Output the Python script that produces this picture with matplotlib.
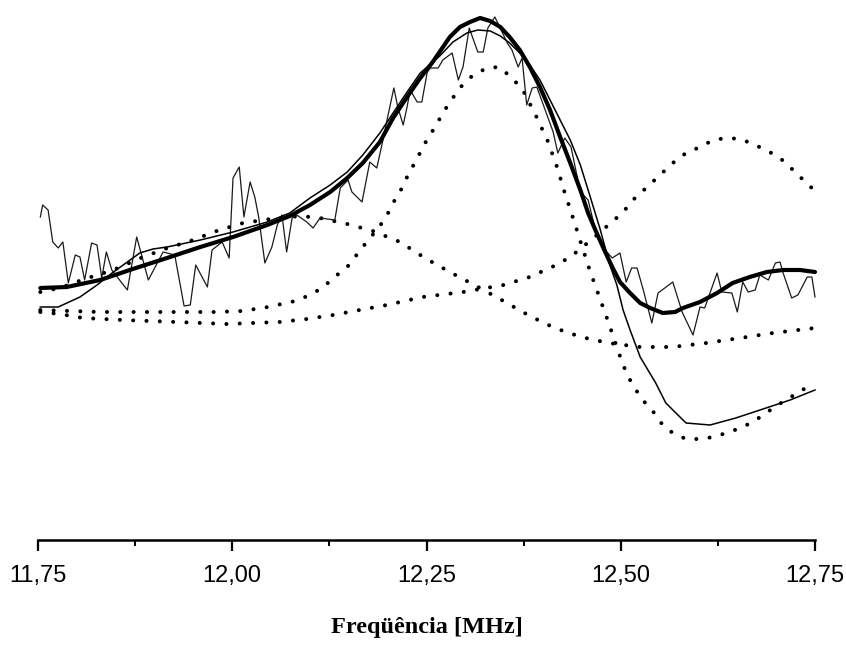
import matplotlib
matplotlib.use("Agg")
import matplotlib.pyplot as plt
from matplotlib.ticker import FixedLocator

# ---- measured spectrum (arbitrary amplitude units) ----
meas_f = [11.753, 11.756, 11.763, 11.769, 11.776, 11.782, 11.789, 11.798, 11.804, 11.810,
          11.819, 11.826, 11.832, 11.838, 11.845, 11.865, 11.877, 11.892, 11.911, 11.926,
          11.938, 11.946, 11.953, 11.968, 11.974, 11.987, 11.996, 12.001, 12.009, 12.015,
          12.023, 12.029, 12.034, 12.042, 12.051, 12.058, 12.064, 12.070, 12.077, 12.083,
          12.096, 12.104, 12.113, 12.132, 12.139, 12.149, 12.154, 12.167, 12.177, 12.186,
          12.194, 12.200, 12.208, 12.213, 12.220, 12.225, 12.229, 12.238, 12.244, 12.251,
          12.255, 12.265, 12.271, 12.283, 12.291, 12.297, 12.305, 12.316, 12.323, 12.329,
          12.338, 12.354, 12.360, 12.368, 12.373, 12.379, 12.386, 12.392, 12.413, 12.419,
          12.428, 12.436, 12.448, 12.458, 12.468, 12.480, 12.489, 12.499, 12.507, 12.514,
          12.521, 12.529, 12.540, 12.548, 12.567, 12.579, 12.593, 12.602, 12.608, 12.624,
          12.630, 12.643, 12.650, 12.657, 12.664, 12.673, 12.679, 12.690, 12.699, 12.705,
          12.709, 12.720, 12.728, 12.740, 12.746, 12.750]
meas_a = [3.23, 3.35, 3.30, 2.98, 2.92, 2.98, 2.57, 2.85, 2.83, 2.60,
          2.97, 2.95, 2.62, 2.88, 2.70, 2.50, 3.03, 2.60, 2.88, 2.85,
          2.34, 2.35, 2.75, 2.53, 2.90, 2.98, 2.82, 3.62, 3.73, 3.23,
          3.58, 3.43, 3.23, 2.77, 2.93, 3.15, 3.25, 2.88, 3.22, 3.25,
          3.18, 3.12, 3.22, 3.20, 3.52, 3.60, 3.48, 3.38, 3.78, 3.72,
          4.00, 4.23, 4.52, 4.33, 4.15, 4.33, 4.50, 4.38, 4.38, 4.68,
          4.72, 4.72, 4.80, 4.87, 4.60, 4.73, 5.12, 4.88, 4.88, 5.12,
          5.23, 4.97, 4.90, 4.73, 4.82, 4.35, 4.52, 4.53, 4.08, 3.87,
          4.02, 3.93, 3.48, 3.40, 3.08, 2.90, 2.82, 2.87, 2.58, 2.72,
          2.72, 2.50, 2.17, 2.47, 2.58, 2.28, 2.05, 2.33, 2.32, 2.67,
          2.48, 2.47, 2.28, 2.58, 2.48, 2.50, 2.65, 2.60, 2.77, 2.78,
          2.67, 2.42, 2.45, 2.63, 2.63, 2.43]

# ---- total fit (thick line) ----
fit_f = [11.753, 11.787, 11.830, 11.872, 11.916, 11.959, 12.001, 12.045, 12.074, 12.100,
         12.126, 12.148, 12.168, 12.190, 12.207, 12.225, 12.242, 12.258, 12.280, 12.293,
         12.306, 12.319, 12.332, 12.345, 12.357, 12.370, 12.383, 12.396, 12.409, 12.422,
         12.435, 12.448, 12.458, 12.469, 12.480, 12.489, 12.499, 12.512, 12.525, 12.538,
         12.554, 12.570, 12.580, 12.602, 12.624, 12.644, 12.666, 12.688, 12.709, 12.731,
         12.750]
fit_a = [2.52, 2.53, 2.60, 2.71, 2.82, 2.93, 3.03, 3.15, 3.24, 3.35,
         3.48, 3.62, 3.77, 3.98, 4.22, 4.43, 4.62, 4.78, 5.03, 5.13,
         5.18, 5.22, 5.19, 5.13, 5.03, 4.90, 4.73, 4.53, 4.30, 4.03,
         3.77, 3.50, 3.27, 3.07, 2.88, 2.73, 2.58, 2.47, 2.37, 2.32,
         2.27, 2.28, 2.32, 2.38, 2.47, 2.57, 2.63, 2.68, 2.70, 2.70,
         2.68]

# ---- single-resonance model (thin smooth line) ----
model_f = [11.753, 11.776, 11.804, 11.826, 11.847, 11.865, 11.881, 11.898, 11.916, 11.959,
           12.001, 12.045, 12.074, 12.100, 12.126, 12.148, 12.168, 12.190, 12.207, 12.225,
           12.242, 12.267, 12.284, 12.302, 12.316, 12.332, 12.345, 12.357, 12.370, 12.383,
           12.396, 12.409, 12.422, 12.435, 12.448, 12.460, 12.473, 12.486, 12.495, 12.503,
           12.512, 12.525, 12.545, 12.558, 12.584, 12.615, 12.648, 12.687, 12.718, 12.750]
model_a = [2.33, 2.33, 2.43, 2.55, 2.68, 2.78, 2.87, 2.91, 2.93, 3.00,
           3.08, 3.18, 3.27, 3.42, 3.55, 3.68, 3.85, 4.07, 4.27, 4.48,
           4.67, 4.84, 4.98, 5.07, 5.10, 5.09, 5.04, 4.97, 4.87, 4.75,
           4.60, 4.40, 4.20, 4.00, 3.75, 3.45, 3.12, 2.75, 2.55, 2.30,
           2.10, 1.83, 1.57, 1.37, 1.17, 1.15, 1.22, 1.32, 1.40, 1.50]

# ---- individual components (dotted lines) ----
comp1_f = [11.753, 11.778, 11.810, 11.847, 11.879, 11.913, 11.946, 11.980, 12.014, 12.049,
           12.087, 12.113, 12.148, 12.181, 12.216, 12.248, 12.280, 12.314, 12.349, 12.383,
           12.415, 12.449, 12.484, 12.525, 12.567, 12.610, 12.654, 12.696, 12.750]
comp1_a = [2.48, 2.52, 2.61, 2.70, 2.81, 2.91, 2.99, 3.09, 3.17, 3.21,
           3.24, 3.22, 3.16, 3.09, 2.98, 2.82, 2.68, 2.54, 2.39, 2.24,
           2.12, 2.03, 1.97, 1.93, 1.93, 1.97, 2.02, 2.07, 2.12]

comp2_f = [11.753, 11.830, 11.907, 11.980, 12.013, 12.046, 12.081, 12.097, 12.116, 12.130,
           12.148, 12.162, 12.173, 12.188, 12.198, 12.207, 12.217, 12.225, 12.234, 12.243,
           12.251, 12.262, 12.271, 12.282, 12.294, 12.310, 12.328, 12.343, 12.359, 12.374,
           12.391, 12.406, 12.418, 12.428, 12.439, 12.450, 12.460, 12.472, 12.484, 12.494,
           12.503, 12.512, 12.526, 12.542, 12.554, 12.567, 12.584, 12.603, 12.619, 12.636,
           12.654, 12.670, 12.687, 12.702, 12.719, 12.738, 12.750]
comp2_a = [2.30, 2.28, 2.28, 2.28, 2.29, 2.33, 2.39, 2.44, 2.52, 2.62,
           2.73, 2.87, 2.98, 3.12, 3.23, 3.37, 3.50, 3.63, 3.76, 3.89,
           4.01, 4.14, 4.27, 4.40, 4.53, 4.65, 4.72, 4.73, 4.63, 4.50,
           4.24, 3.99, 3.73, 3.47, 3.21, 2.94, 2.70, 2.44, 2.18, 1.95,
           1.75, 1.60, 1.42, 1.28, 1.15, 1.07, 1.01, 1.01, 1.03, 1.07,
           1.12, 1.18, 1.27, 1.35, 1.43, 1.52, 1.56]

comp3_f = [11.753, 11.778, 11.808, 11.859, 11.929, 11.993, 12.061, 12.096, 12.130, 12.164,
           12.199, 12.245, 12.297, 12.349, 12.383, 12.417, 12.435, 12.451, 12.468, 12.484,
           12.502, 12.517, 12.534, 12.552, 12.567, 12.584, 12.602, 12.619, 12.636, 12.654,
           12.670, 12.687, 12.705, 12.719, 12.735, 12.750]
comp3_a = [2.28, 2.26, 2.22, 2.20, 2.18, 2.16, 2.18, 2.21, 2.25, 2.30,
           2.35, 2.43, 2.48, 2.55, 2.63, 2.75, 2.83, 2.93, 3.04, 3.15,
           3.27, 3.41, 3.53, 3.66, 3.77, 3.87, 3.93, 4.00, 4.02, 4.01,
           3.96, 3.90, 3.82, 3.72, 3.60, 3.49]

# ---- axis ticks ----
major_ticks = [11.75, 12.00, 12.25, 12.50, 12.75]
tick_labels = ["11,75", "12,00", "12,25", "12,50", "12,75"]
minor_ticks = [11.875, 12.125, 12.375, 12.625]

fig = plt.figure(figsize=(8.46, 6.5), dpi=100)
ax = fig.add_axes([38 / 846, 110 / 650, 777 / 846, 540 / 650])

dot_style = dict(color="black", linewidth=2.9, linestyle=(0, (0.01, 3.3)),
                 dash_capstyle="round", clip_on=False)
ax.plot(comp1_f, comp1_a, **dot_style)
ax.plot(comp2_f, comp2_a, **dot_style)
ax.plot(comp3_f, comp3_a, **dot_style)

ax.plot(meas_f, meas_a, color="#1a1a1a", linewidth=0.9, clip_on=False)
ax.plot(model_f, model_a, color="black", linewidth=1.1, clip_on=False)
ax.plot(fit_f, fit_a, color="black", linewidth=3.0, solid_capstyle="round",
        solid_joinstyle="round", clip_on=False)

ax.set_xlim(11.75, 12.75)
ax.set_ylim(0, 5.4)

for side in ("top", "right", "left"):
    ax.spines[side].set_visible(False)
ax.spines["bottom"].set_linewidth(1.8)
ax.set_yticks([])

ax.xaxis.set_major_locator(FixedLocator(major_ticks))
ax.xaxis.set_minor_locator(FixedLocator(minor_ticks))
ax.set_xticklabels(tick_labels, fontfamily="Liberation Sans", fontsize=17)
ax.tick_params(axis="x", which="major", length=8, width=1.6, direction="out", pad=10)
ax.tick_params(axis="x", which="minor", length=4, width=1.4, direction="out")

ax.set_xlabel("Freqüência [MHz]", fontfamily="Liberation Serif", fontweight="bold",
              fontsize=17.5, va="center")
ax.xaxis.set_label_coords(0.5, (540 - 627) / 540)

fig.savefig("out.png", dpi=100)
